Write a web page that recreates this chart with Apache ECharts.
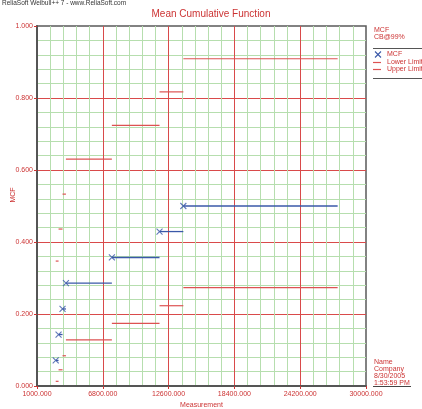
<!DOCTYPE html>
<html>
<head>
<meta charset="utf-8">
<script src="https://cdn.jsdelivr.net/npm/echarts@6/dist/echarts.min.js"></script>
<style>
html, body { margin: 0; padding: 0; background: #fff; }
#chart { width: 422px; height: 409px; }
</style>
</head>
<body>
<div id="chart"></div>
<script>
// step start times and MCF values (last step runs to endTime)
const times = [2650, 2900, 3250, 3550, 7600, 11800, 13900]
const endTime = 27500
const mcf = [0.071, 0.143, 0.214, 0.286, 0.357, 0.429, 0.500]
const lowerLimit = [0.013, 0.045, 0.084, 0.128, 0.174, 0.223, 0.273]
const upperLimit = [0.347, 0.436, 0.533, 0.630, 0.724, 0.817, 0.909]
const legendNames = ['MCF', 'Lower Limit', 'Upper Limit']
const infoLines = ['Name', 'Company', '8/30/2005', '1:53:59 PM']

const red = '#cc3333'
const limitRed = '#dd5252'
const blue = '#3a58a8'
const xMark = 'path://M0,0 L10,10 M10,0 L0,10'

// [start, end, value] for each horizontal step
function steps(vals) {
  return vals.map((v, i) => [times[i], i + 1 < times.length ? times[i + 1] : endTime, v])
}

function stepSeries(name, vals, color, width) {
  return {
    name: name,
    type: 'custom',
    encode: { x: [0, 1], y: 2 },
    data: steps(vals),
    renderItem: function (params, api) {
      const a = api.coord([api.value(0), api.value(2)])
      const b = api.coord([api.value(1), api.value(2)])
      return {
        type: 'line',
        shape: { x1: a[0], y1: a[1], x2: b[0], y2: b[1] },
        style: { stroke: color, lineWidth: width },
      }
    },
    z: 3,
  }
}

const chart = echarts.init(document.getElementById('chart'))
const font = 'Liberation Sans, Arial, sans-serif'

function seg(x1, y1, x2, y2, color, w) {
  return { type: 'line', shape: { x1: x1, y1: y1, x2: x2, y2: y2 }, style: { stroke: color, lineWidth: w } }
}

const graphic = [
  { type: 'text', x: 2, y: 0, style: { text: 'ReliaSoft Weibull++ 7 - www.ReliaSoft.com', fontSize: 6.5, fontFamily: font, fill: '#333' } },
  { type: 'text', x: 374, y: 26, style: { text: 'MCF\nCB@99%', fontSize: 7, lineHeight: 7.5, fontFamily: font, fill: red } },
  seg(373, 48.5, 422, 48.5, '#555', 1),
  seg(375, 51.5, 381, 57.5, blue, 1.1),
  seg(381, 51.5, 375, 57.5, blue, 1.1),
  seg(373, 62.5, 381, 62.5, limitRed, 1.2),
  seg(373, 69.5, 381, 69.5, limitRed, 1.2),
  seg(373, 78.5, 422, 78.5, '#555', 1),
  { type: 'text', x: 374, y: 358, style: { text: infoLines.join('\n'), fontSize: 7, lineHeight: 7.2, fontFamily: font, fill: red } },
  seg(373, 386.5, 411, 386.5, '#444', 1),
]
legendNames.forEach((n, i) => {
  graphic.push({ type: 'text', x: 387, y: 51 + i * 7.3, style: { text: n, fontSize: 7, fontFamily: font, fill: red } })
})

chart.setOption({
  animation: false,
  textStyle: { fontFamily: font },
  title: {
    text: 'Mean Cumulative Function',
    left: 'center',
    top: 4,
    textStyle: { fontSize: 10, fontWeight: 'normal', color: red },
  },
  grid: {
    left: 37, right: 56, top: 26, bottom: 23,
    containLabel: false, outerBoundsMode: 'none',
    show: true, borderColor: '#5a5a5a', borderWidth: 1.5, backgroundColor: '#fff',
  },
  xAxis: {
    type: 'value',
    min: 1000, max: 30000, interval: 5800,
    name: 'Measurement', nameLocation: 'middle', nameGap: 16, nameMoveOverlap: false,
    nameTextStyle: { color: red, fontSize: 7 },
    axisLine: { show: true, lineStyle: { color: '#555', width: 2 } },
    axisTick: { show: true, length: 3, lineStyle: { color: red } },
    axisLabel: { color: red, fontSize: 7, margin: 5, formatter: v => v.toFixed(3) },
    splitLine: { show: true, showMinLine: false, showMaxLine: false, lineStyle: { color: '#d94a4a', width: 1 } },
    minorTick: { show: false, splitNumber: 5 },
    minorSplitLine: { show: true, lineStyle: { color: '#b6deae', width: 1 } },
  },
  yAxis: {
    type: 'value',
    min: 0, max: 1, interval: 0.2,
    name: 'MCF', nameLocation: 'middle', nameGap: 20, nameMoveOverlap: false,
    nameTextStyle: { color: red, fontSize: 7, padding: [0, 0, 0, 22] },
    axisLine: { show: true, lineStyle: { color: '#555', width: 2 } },
    axisTick: { show: true, length: 3, lineStyle: { color: red } },
    axisLabel: { color: red, fontSize: 7, margin: 4, formatter: v => v.toFixed(3) },
    splitLine: { show: true, showMinLine: false, showMaxLine: false, lineStyle: { color: '#d94a4a', width: 1 } },
    minorTick: { show: false, splitNumber: 5 },
    minorSplitLine: { show: true, lineStyle: { color: '#b6deae', width: 1 } },
  },
  graphic: graphic,
  series: [
    stepSeries('Lower Limit', lowerLimit, limitRed, 1.2),
    stepSeries('Upper Limit', upperLimit, limitRed, 1.2),
    stepSeries('MCF', mcf, blue, 1.3),
    {
      name: 'MCF points',
      type: 'scatter',
      data: times.map((t, i) => [t, mcf[i]]),
      symbol: xMark,
      symbolSize: 6,
      itemStyle: { color: 'rgba(0,0,0,0)', borderColor: blue, borderWidth: 1.1 },
      z: 4,
    },
  ],
})
</script>
</body>
</html>
